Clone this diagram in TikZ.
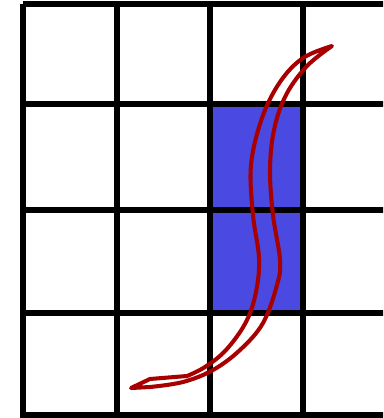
\documentclass[tikz,border=0pt]{standalone}
\definecolor{cellblue}{RGB}{74,74,226}
\definecolor{loopred}{RGB}{168,0,0}
\begin{document}
\begin{tikzpicture}[x=0.02cm,y=-0.02cm]
  \useasboundingbox (0,0) rectangle (383,418);
  \clip (0,0) rectangle (383,418);
  \fill[cellblue] (210,104) rectangle (305,313); % shaded cells
  % grid
  \foreach \x in {23,117,210,303}
    \draw[line width=2.9pt,line cap=square] (\x,4) -- (\x,430);
  \foreach \y in {4,104,210,313,415}
    \draw[line width=2.9pt,line cap=square] (23,\y) -- (400,\y);
  % thin S-shaped loop
  \draw[loopred,line width=2.3pt,line join=round]
    plot[smooth,tension=0.6] coordinates {(332,46) (303,58) (280,82) (262,118) (251,165)
      (253,215) (259,258) (256,292) (246,322) (226,350) (205,367) (187,376)}
    -- (150,379) -- (131,388)
    -- plot[smooth,tension=0.6] coordinates {(150,387) (183,382) (213,370) (240,350)
      (263,323) (277,285) (280,260) (273,215) (270,170) (274,130) (286,95) (307,66) (332,46)}
    -- cycle;
\end{tikzpicture}
\end{document}
